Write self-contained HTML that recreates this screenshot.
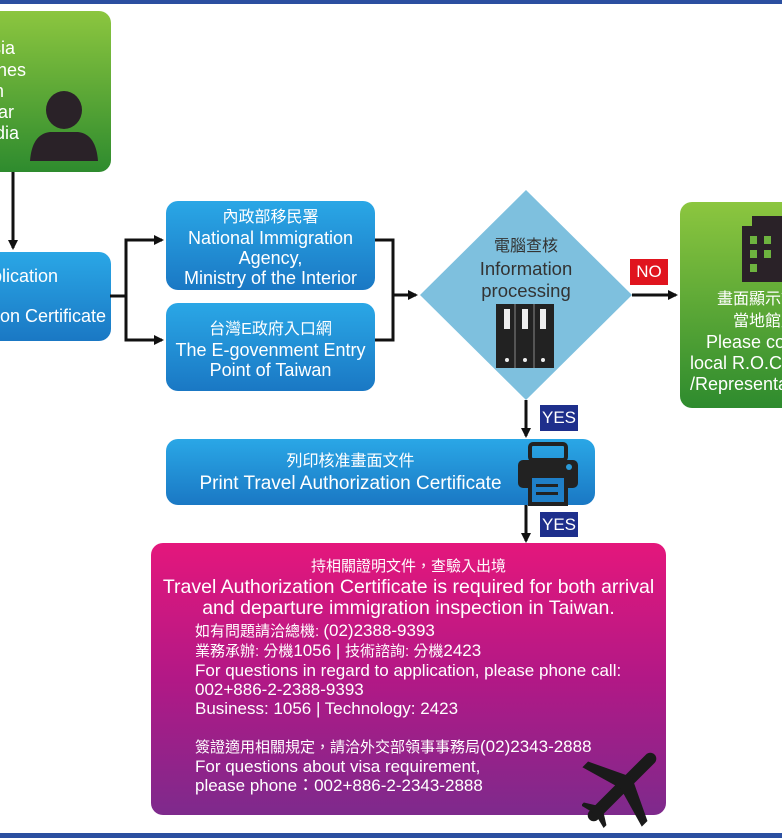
<!DOCTYPE html>
<html><head><meta charset="utf-8"><style>
*{margin:0;padding:0;box-sizing:border-box}
html,body{width:782px;height:838px;overflow:hidden}
body{background:#fff;position:relative;font-family:"Liberation Sans","Noto Sans CJK TC",sans-serif;color:#fff}
#c{position:absolute;left:0;top:0;width:782px;height:838px;overflow:hidden}
.a{position:absolute}
.blue{background:linear-gradient(#2aa7e6,#1a78c4);border-radius:12px;text-align:center;font-size:18.5px;line-height:19px}
.green{background:linear-gradient(#8cc63f,#2e8b2e);border-radius:12px}
.t{position:absolute;white-space:nowrap}
</style></head><body><div id="c">
<div class="a" style="left:0;top:0;width:782px;height:4px;background:#2b4fa0"></div>
<div class="a" style="left:0;top:833px;width:782px;height:5px;background:#2b4fa0"></div>

<div class="a green" style="left:-20px;top:11px;width:131px;height:161px"></div>
<div class="t" style="right:767px;top:38px;font-size:18px">Indonesia</div>
<div class="t" style="right:756px;top:60px;font-size:18px">Philippines</div>
<div class="t" style="right:778px;top:81px;font-size:18px">Vietnam</div>
<div class="t" style="right:768px;top:102px;font-size:18px">Myanmar</div>
<div class="t" style="right:763px;top:123px;font-size:18px">Cambodia</div>
<svg class="a" style="left:28px;top:90px" width="72" height="72"><ellipse cx="36" cy="20" rx="18" ry="19" fill="#2a2228"/><path d="M2 71 Q4 44 22 42 L50 42 Q68 44 70 71 Z" fill="#2a2228"/></svg>

<div class="a blue" style="left:-20px;top:252px;width:131px;height:89px"></div>
<div class="t" style="right:724px;top:266px;font-size:18px">Application</div>
<div class="t" style="right:676px;top:306px;font-size:18px">Travel Authorization Certificate</div>

<div class="a blue" style="left:166px;top:201px;width:209px;height:89px;padding-top:5px;line-height:20px;font-size:18px"><span style="font-size:16px">內政部移民署</span><br>National Immigration<br>Agency,<br>Ministry of the Interior</div>
<div class="a blue" style="left:166px;top:303px;width:209px;height:88px;padding-top:15px;line-height:20px;font-size:18px"><span style="font-size:16px">台灣E政府入口網</span><br>The E-govenment Entry<br>Point of Taiwan</div>

<svg class="a" style="left:0;top:0" width="782" height="838">
<defs><marker id="m" markerWidth="10" markerHeight="10" refX="8" refY="5" orient="auto" markerUnits="userSpaceOnUse"><path d="M0 0 L10 5 L0 10 Z" fill="#111"/></marker></defs>
<g stroke="#111" stroke-width="3" fill="none">
<line x1="13" y1="172" x2="13" y2="248" marker-end="url(#m)"/>
<line x1="110" y1="296" x2="126" y2="296"/>
<polyline points="160,240 126,240 126,340 160,340"/>
<line x1="126" y1="240" x2="162" y2="240" marker-end="url(#m)"/>
<line x1="126" y1="340" x2="162" y2="340" marker-end="url(#m)"/>
<polyline points="375,240 393,240 393,340 375,340"/>
<line x1="393" y1="295" x2="416" y2="295" marker-end="url(#m)"/>
<line x1="632" y1="295" x2="676" y2="295" marker-end="url(#m)"/>
<line x1="526" y1="400" x2="526" y2="436" marker-end="url(#m)"/>
<line x1="526" y1="505" x2="526" y2="541" marker-end="url(#m)"/>
</g>
<polygon points="526,190 632,295 526,400 420,295" fill="#7ec0de"/>
<g transform="translate(496,304)">
<rect x="0" y="0" width="58" height="64" fill="#222"/>
<g fill="#eee"><rect x="8" y="5" width="6" height="20"/><rect x="26" y="5" width="6" height="20"/><rect x="44" y="5" width="6" height="20"/>
<circle cx="11" cy="56" r="2"/><circle cx="29" cy="56" r="2"/><circle cx="47" cy="56" r="2"/></g>
<g stroke="#555" stroke-width="2"><line x1="19" y1="0" x2="19" y2="64"/><line x1="38" y1="0" x2="38" y2="64"/></g>
</g>
</svg>
<div class="t" style="left:426px;top:234px;width:200px;text-align:center;color:#333;font-size:18.5px;line-height:22px"><span style="font-size:16px">電腦查核</span><br>Information<br>processing</div>

<div class="a" style="left:630px;top:259px;width:38px;height:26px;background:#e0141e;font-size:17px;line-height:26px;text-align:center">NO</div>
<div class="a" style="left:540px;top:405px;width:38px;height:26px;background:#1e2f8c;font-size:17px;line-height:26px;text-align:center">YES</div>
<div class="a" style="left:540px;top:512px;width:38px;height:25px;background:#1e2f8c;font-size:17px;line-height:25px;text-align:center">YES</div>

<div class="a green" style="left:680px;top:202px;width:120px;height:206px"></div>
<svg class="a" style="left:742px;top:214px" width="40" height="70"><rect x="0" y="12" width="45" height="56" fill="#2a2228"/><rect x="10" y="2" width="35" height="12" fill="#2a2228"/><g fill="#6db33f"><rect x="8" y="22" width="7" height="8"/><rect x="8" y="36" width="7" height="8"/><rect x="8" y="50" width="7" height="8"/><rect x="22" y="22" width="7" height="8"/><rect x="22" y="36" width="7" height="8"/></g></svg>
<div class="a" style="left:680px;top:288px;width:102px;height:110px;overflow:hidden"><div class="t" style="left:10px;top:0;width:150px;text-align:center;font-size:18px;line-height:21px"><span style="font-size:16px">畫面顯示請洽<br>當地館處</span><br>Please contact<br>local R.O.C. Embassy<br>/Representative Office</div></div>

<div class="a blue" style="left:166px;top:439px;width:429px;height:66px;padding:11px 60px 0 0;line-height:22px;font-size:19px"><span style="font-size:16px">列印核准畫面文件</span><br>Print Travel Authorization Certificate</div>
<svg class="a" style="left:516px;top:442px" width="64" height="64"><rect x="14" y="2" width="36" height="16" rx="3" fill="none" stroke="#222" stroke-width="4"/><rect x="2" y="18" width="60" height="28" rx="5" fill="#222"/><circle cx="53" cy="25" r="3" fill="#2a9ad8"/><rect x="14" y="34" width="36" height="28" fill="#1f7fc8" stroke="#222" stroke-width="4"/><rect x="20" y="42" width="22" height="3" fill="#222"/><rect x="20" y="50" width="22" height="3" fill="#222"/></svg>

<div class="a" style="left:151px;top:543px;width:515px;height:272px;border-radius:12px;background:linear-gradient(#e4177c,#b21886 50%,#7e2a8c)"></div>
<div class="t" style="left:151px;top:555px;width:515px;text-align:center;font-size:19.5px;line-height:21px"><span style="font-size:15px">持相關證明文件，查驗入出境</span><br>Travel Authorization Certificate is required for both arrival<br>and departure immigration inspection in Taiwan.</div>
<div class="t" style="left:195px;top:621px;font-size:17px;line-height:19px"><span style="font-size:15px">如有問題請洽總機: </span>(02)2388-9393<br><span style="font-size:15px">業務承辦: 分機</span>1056 | <span style="font-size:15px">技術諮詢: 分機</span>2423<br>For questions in regard to application, please phone call:<br>002+886-2-2388-9393<br>Business: 1056 | Technology: 2423<br><br><span style="font-size:15px">簽證適用相關規定，請洽外交部領事事務局</span>(02)2343-2888<br>For questions about visa requirement,<br>please phone：002+886-2-2343-2888</div>
<svg class="a" style="left:582px;top:745px" width="80" height="85"><g fill="#1a1a1a" transform="rotate(45 40 42)"><rect x="34" y="-4" width="12" height="92" rx="6"/><polygon points="40,28 -2,48 -2,56 40,44 82,56 82,48"/><polygon points="40,70 24,80 24,84 40,80 56,84 56,80"/></g></svg>
</div></body></html>
